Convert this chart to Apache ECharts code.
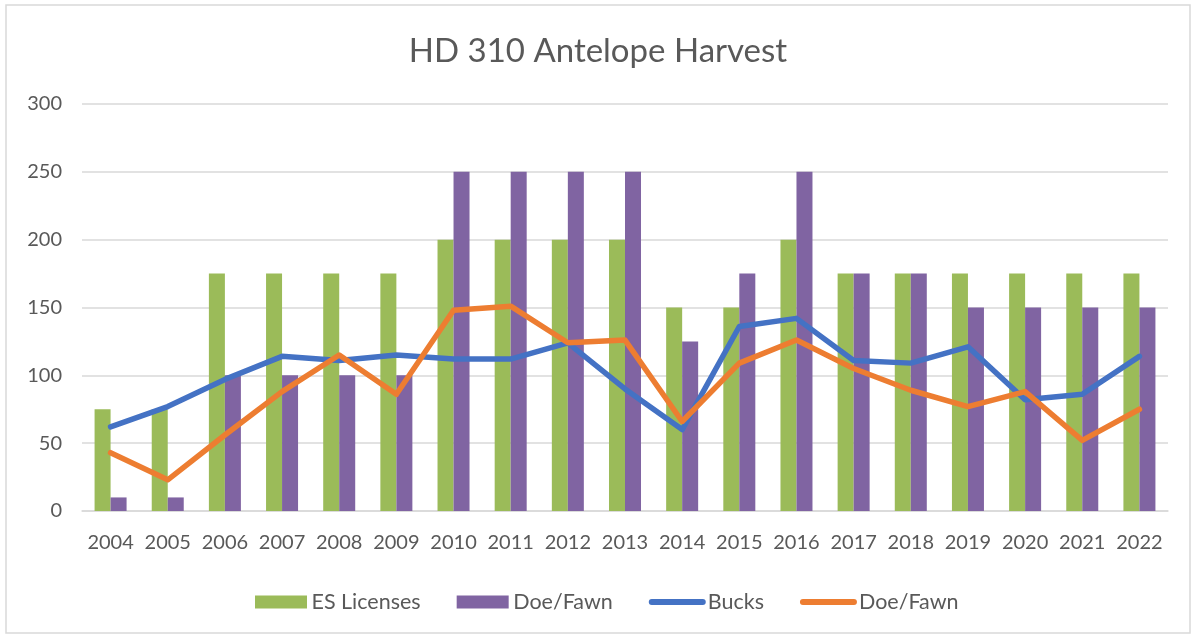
<!DOCTYPE html>
<html>
<head>
<meta charset="utf-8">
<script src="https://cdn.jsdelivr.net/npm/echarts@6/dist/echarts.min.js"></script>
<style>
  html, body { margin: 0; padding: 0; background: #fff; }
  #chart-container { width: 1196px; height: 635px; }
</style>
</head>
<body>
<div id="chart-container"></div>
<script>
const years = ["2004", "2005", "2006", "2007", "2008", "2009", "2010", "2011", "2012", "2013",
  "2014", "2015", "2016", "2017", "2018", "2019", "2020", "2021", "2022"];
const esLicenses = [75, 75, 175, 175, 175, 175, 200, 200, 200, 200, 150, 150, 200, 175, 175, 175, 175, 175, 175];
const doeFawnLicenses = [10, 10, 100, 100, 100, 100, 250, 250, 250, 250, 125, 175, 250, 175, 175, 150, 150, 150, 150];
const bucks = [62, 77, 97, 114, 111, 115, 112, 112, 124, 90, 60, 136, 142, 111, 109, 121, 82, 86, 114];
const doeFawnHarvest = [43, 23, 56, 88, 115, 86, 148, 151, 124, 126, 66, 109, 126, 105, 89, 77, 88, 52, 75];

(() => {
  var dom = document.getElementById("chart-container");
  var chart = echarts.init(dom, null, { renderer: "canvas" });
  const font = "Lato, 'Open Sans', sans-serif";
  const grey = "#595959";
  // legend icons: plain block for bars, rounded stroke for lines
  const barIcon = "path://M0,0 L52,0 L52,13 L0,13 Z";
  const lineIcon = "path://M3,0 L54,0 A3,3 0 0 1 54,6 L3,6 A3,3 0 0 1 3,0 Z";

  const option = {
    animation: false,
    graphic: [
      {
        type: "rect",
        shape: { x: 6, y: 5, width: 1184, height: 628 },
        style: { fill: "none", stroke: "#d9d9d9", lineWidth: 1.5 },
      },
    ],
    title: {
      text: "HD 310 Antelope Harvest",
      left: "center",
      top: 30,
      textStyle: { fontFamily: font, fontSize: 33, fontWeight: "normal", color: grey },
    },
    legend: {
      top: 586,
      left: 250,
      itemWidth: 57,
      itemHeight: 13,
      itemGap: 36,
      textStyle: { fontFamily: font, fontSize: 21.5, color: grey, padding: [0, 0, 0, -3] },
      formatter: (name) => name.trim(),
      data: [
        { name: "ES Licenses", icon: barIcon },
        { name: "Doe/Fawn", icon: barIcon },
        { name: "Bucks", icon: lineIcon },
        { name: "Doe/Fawn ", icon: lineIcon },
      ],
    },
    grid: { left: 82, right: 28, top: 104, bottom: 124, containLabel: false },
    xAxis: {
      type: "category",
      data: years,
      axisLine: { lineStyle: { color: "#d9d9d9", width: 1.5 } },
      axisTick: { show: false },
      axisLabel: { interval: 0, fontFamily: font, fontSize: 20, color: grey, margin: 22 },
    },
    yAxis: {
      type: "value",
      min: 0,
      max: 300,
      interval: 50,
      axisLine: { show: false },
      axisTick: { show: false },
      splitLine: { lineStyle: { color: "#d9d9d9", width: 1.5 } },
      axisLabel: { fontFamily: font, fontSize: 20, color: grey, margin: 20 },
    },
    series: [
      {
        name: "ES Licenses",
        type: "bar",
        color: "#9bbb59",
        barGap: "0%",
        barCategoryGap: "44%",
        data: esLicenses,
      },
      {
        name: "Doe/Fawn",
        type: "bar",
        color: "#8064a2",
        data: doeFawnLicenses,
      },
      {
        name: "Bucks",
        type: "line",
        color: "#4472c4",
        symbol: "none",
        lineStyle: { width: 5.5, cap: "round", join: "round" },
        data: bucks,
      },
      {
        name: "Doe/Fawn ",
        type: "line",
        color: "#ed7d31",
        symbol: "none",
        lineStyle: { width: 5.5, cap: "round", join: "round" },
        data: doeFawnHarvest,
      },
    ],
  };

  chart.setOption(option);
  window.addEventListener("resize", chart.resize);
})();
</script>
</body>
</html>
